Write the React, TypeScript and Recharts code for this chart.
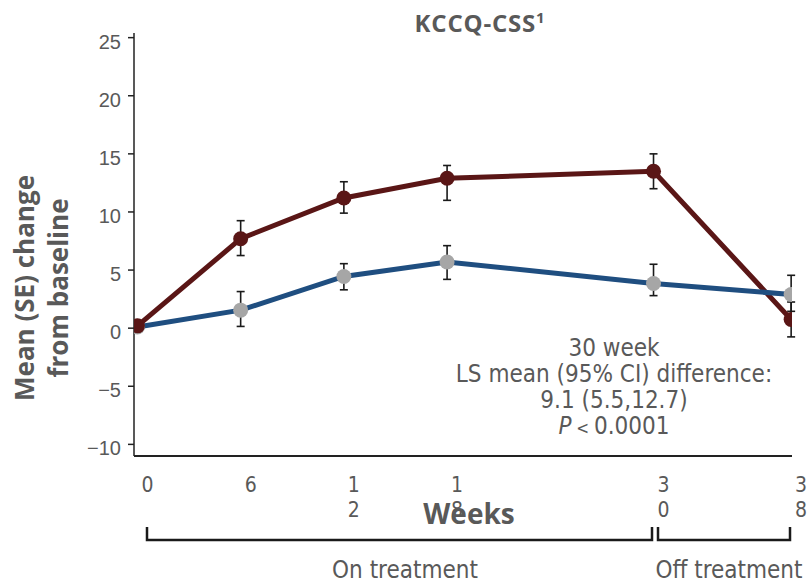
import React from 'react'
import { ComposedChart, Line, XAxis, YAxis, ErrorBar } from 'recharts'

const weeks = [0, 6, 12, 18, 30, 38]
const treatment = [0.2, 7.7, 11.2, 12.9, 13.5, 0.75]
const treatmentErr: (number[] | null)[] = [null, [1.45, 1.55], [1.3, 1.4], [1.9, 1.1], [1.5, 1.5], [1.5, 1.5]]
const placebo = [0.1, 1.55, 4.45, 5.7, 3.85, 2.9]
const placeboErr: (number[] | null)[] = [null, [1.4, 1.6], [1.15, 1.1], [1.5, 1.4], [1.05, 1.65], [1.45, 1.65]]
const yTicks = [-10, -5, 0, 5, 10, 15, 20, 25]
const noteLines = ['30 week', 'LS mean (95% CI) difference:', '9.1 (5.5,12.7)']

const rows = weeks.map((w, i) => ({
  week: w,
  treatment: treatment[i],
  treatmentErr: treatmentErr[i],
  placebo: placebo[i],
  placeboErr: placeboErr[i],
}))

const GREY_TEXT = '#595959'
const RED = '#5a1616'
const BLUE = '#1f4e80'
const DOT_GREY = '#a6a6a6'
const condensed = "'DejaVu Sans Condensed', 'DejaVu Sans', sans-serif"
const bold = "'Open Sans', 'Noto Sans', sans-serif"

function WeekTick({ x, y, payload }: any) {
  const chars = String(payload.value).split('')
  return (
    <text fill={GREY_TEXT} fontFamily={condensed} fontSize={21} textAnchor="middle" style={{ fontStretch: 'condensed' }}>
      {chars.map((c, i) => (
        <tspan key={i} x={x + 10} y={y + 28 + i * 25}>
          {c}
        </tspan>
      ))}
    </text>
  )
}

function ValueTick({ x, y, payload }: any) {
  return (
    <text x={x} y={y + 11} fill={GREY_TEXT} fontFamily="'Liberation Sans', Arial, sans-serif" fontSize={20} textAnchor="end">
      {payload.value < 0 ? '\u2212' + Math.abs(payload.value) : payload.value}
    </text>
  )
}

export default function App() {
  return (
    <div style={{ position: 'absolute', left: 0, top: 0, width: 807, height: 582, background: '#fff' }}>
      <ComposedChart width={807} height={582} data={rows} margin={{ top: 33, right: 15, bottom: 36, left: 74 }}>
        <XAxis
          type="number"
          dataKey="week"
          domain={[-0.2, 38.05]}
          ticks={weeks}
          allowDataOverflow
          height={90}
          tickLine={false}
          axisLine={{ stroke: '#222', strokeWidth: 2 }}
          tick={<WeekTick />}
        />
        <YAxis
          type="number"
          domain={[-11, 25.4]}
          ticks={yTicks}
          allowDataOverflow
          width={60}
          tickSize={6}
          tickMargin={7}
          tickLine={{ stroke: '#222', strokeWidth: 1.5 }}
          axisLine={{ stroke: '#222', strokeWidth: 1.5 }}
          tick={<ValueTick />}
        />
        <Line
          dataKey="placebo"
          stroke="none"
          dot={{ r: 7.5, fill: DOT_GREY, stroke: 'none' }}
          isAnimationActive={false}
        >
          <ErrorBar dataKey="placeboErr" direction="y" width={4} stroke="#1a1a1a" strokeWidth={1.6} />
        </Line>
        <Line
          dataKey="treatment"
          stroke={RED}
          strokeWidth={5}
          dot={{ r: 7.5, fill: RED, stroke: 'none' }}
          isAnimationActive={false}
        >
          <ErrorBar dataKey="treatmentErr" direction="y" width={4} stroke="#1a1a1a" strokeWidth={1.6} />
        </Line>
        <Line dataKey="placebo" stroke={BLUE} strokeWidth={5} dot={false} isAnimationActive={false} />
      </ComposedChart>

      <svg width={807} height={582} style={{ position: 'absolute', left: 0, top: 0, pointerEvents: 'none' }}>
        <text x={480} y={32} textAnchor="middle" fill={GREY_TEXT} fontFamily={bold} fontWeight={700} fontSize={24} letterSpacing={0.8}>
          KCCQ-CSS<tspan fontSize={15} dy={-9}>1</tspan>
        </text>
        <text transform="translate(34,288) rotate(-90)" textAnchor="middle" fill={GREY_TEXT} fontFamily={bold} fontWeight={700} fontSize={26}>
          Mean (SE) change
        </text>
        <text transform="translate(68,288) rotate(-90)" textAnchor="middle" fill={GREY_TEXT} fontFamily={bold} fontWeight={700} fontSize={26}>
          from baseline
        </text>
        <text x={469} y={524} textAnchor="middle" fill={GREY_TEXT} fontFamily={bold} fontWeight={700} fontSize={28}>
          Weeks
        </text>
        <g fill={GREY_TEXT} fontFamily={condensed} fontSize={24} textAnchor="middle" style={{ fontStretch: 'condensed' }}>
          {noteLines.map((t, i) => (
            <text key={t} x={614} y={356 + i * 26}>
              {t}
            </text>
          ))}
          <text x={614} y={434}>
            <tspan fontStyle="italic">P</tspan>
            <tspan fontSize={17}> {'<'} </tspan>0.0001
          </text>
          <text x={405} y={578} fontSize={24}>
            On treatment
          </text>
          <text x={729} y={578} fontSize={24}>
            Off treatment
          </text>
        </g>
        <path d="M147 527 V540 H652 V527" fill="none" stroke="#1a1a1a" strokeWidth={2.5} />
        <path d="M658 527 V540 H790 V527" fill="none" stroke="#1a1a1a" strokeWidth={2.5} />
      </svg>
    </div>
  )
}
